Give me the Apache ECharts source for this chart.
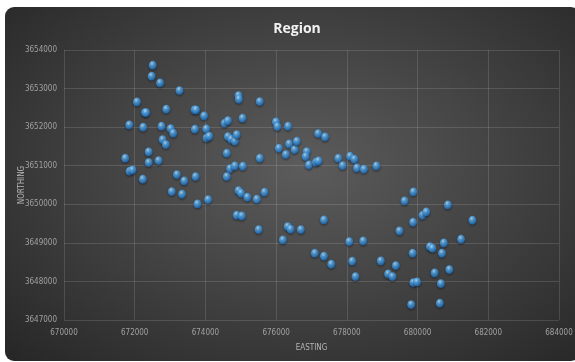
<!DOCTYPE html>
<html>
<head>
<meta charset="utf-8">
<script src="https://cdn.jsdelivr.net/npm/echarts@6/dist/echarts.min.js"></script>
<style>
    html, body { margin: 0; padding: 0; background: #fff; }
    #bg {
        position: absolute; left: 5px; top: 7px; width: 575px; height: 354px;
        border-radius: 9px;
        background: radial-gradient(ellipse at 52% 45%, #5c5c5c 0%, #444 45%, #262626 100%);
    }
    #main { position: absolute; left: 0; top: 0; width: 575px; height: 362px; }
</style>
</head>
<body>
<div id="bg"></div>
<div id="main"></div>
<script>
// 坐标数据
var easting = [
    672510, 672478, 672717, 673267, 672064, 672290, 672320, 672893, 671846, 672240,
    672758, 673017, 673090, 672789, 672883, 672395, 671732, 672395, 672675, 671856,
    671939, 672230, 673194, 673401, 673049, 673339, 673723, 673775, 674075, 673692,
    673734, 673962, 673702, 674024, 674034, 674107, 674542, 674636, 675050, 674936,
    674947, 675537, 674636, 674729, 674833, 674885, 674604, 674697, 674833, 675060,
    675537, 674604, 674936, 675008, 675185, 675454, 675672, 674885, 675030, 675506,
    675994, 676035, 676336, 676077, 676367, 676274, 676523, 676585, 676865, 676834,
    676927, 677124, 677197, 677187, 677384, 677757, 677882, 678089, 678213, 678286,
    678483, 678835, 676191, 676326, 676409, 676699, 677353, 677094, 677353, 677560,
    678068, 678462, 678151, 678244, 678960, 679167, 679291, 679385, 679488, 679633,
    679882, 679872, 679861, 679882, 679986, 679820, 680142, 680245, 680349, 680422,
    680484, 680629, 680660, 680691, 680743, 680857, 680899, 681231, 681552
];
var northing = [
    3653603, 3653317, 3653145, 3652946, 3652652, 3652375, 3652375, 3652462, 3652056, 3651995,
    3652021, 3651960, 3651840, 3651675, 3651546, 3651356, 3651191, 3651079, 3651131, 3650854,
    3650889, 3650647, 3650768, 3650604, 3650327, 3650258, 3650716, 3650007, 3650120, 3652445,
    3652445, 3652289, 3651943, 3651952, 3651719, 3651762, 3652099, 3652168, 3652229, 3652816,
    3652721, 3652661, 3651753, 3651684, 3651632, 3651805, 3651321, 3650924, 3650993, 3650984,
    3651191, 3650716, 3650353, 3650284, 3650180, 3650128, 3650310, 3649714, 3649696, 3649342,
    3652133, 3652012, 3652021, 3651451, 3651563, 3651287, 3651416, 3651632, 3651365, 3651235,
    3651019, 3651088, 3651123, 3651831, 3651744, 3651191, 3651001, 3651243, 3651165, 3650941,
    3650906, 3650993, 3649074, 3649420, 3649351, 3649342, 3649593, 3648728, 3648651, 3648443,
    3649031, 3649048, 3648521, 3648123, 3648530, 3648193, 3648123, 3648409, 3649307, 3650085,
    3650318, 3649532, 3648728, 3647968, 3647985, 3647397, 3649714, 3649800, 3648901, 3648858,
    3648219, 3647432, 3647942, 3648728, 3648996, 3649982, 3648305, 3649091, 3649584
];
var xTicks = [670000, 684000, 2000];
var yTicks = [3647000, 3654000, 1000];

var points = [];
for (var i = 0; i < easting.length; i++) {
    points.push([easting[i], northing[i]]);
}

var labelFont = '"Liberation Sans Narrow", "DejaVu Sans Condensed", sans-serif';
var myChart = echarts.init(document.getElementById('main'));
var option = {
    backgroundColor: 'transparent',
    title: {
        text: 'Region',
        left: 292,
        textAlign: 'center',
        top: 17,
        textStyle: { color: '#f2f2f2', fontSize: 14, fontWeight: 'bold', fontFamily: '"Open Sans", sans-serif' }
    },
    grid: { left: 64, right: 16, top: 50, bottom: 42, outerBoundsMode: 'none' },
    xAxis: {
        type: 'value',
        min: xTicks[0], max: xTicks[1], interval: xTicks[2],
        name: 'EASTING',
        nameLocation: 'middle',
        nameGap: 24,
        nameMoveOverlap: false,
        nameTextStyle: { color: '#b5b5b5', fontSize: 8, fontFamily: labelFont },
        axisLine: { show: false },
        axisTick: { show: false },
        axisLabel: {
            color: '#a0a0a0', fontSize: 8, fontFamily: labelFont, margin: 9,
            formatter: function (v) { return String(v); }
        },
        splitLine: { lineStyle: { color: 'rgba(255,255,255,0.13)', width: 1 } }
    },
    yAxis: {
        type: 'value',
        min: yTicks[0], max: yTicks[1], interval: yTicks[2],
        name: 'NORTHING',
        nameLocation: 'middle',
        nameGap: 38,
        nameMoveOverlap: false,
        nameTextStyle: { color: '#b5b5b5', fontSize: 8, fontFamily: labelFont },
        axisLine: { show: false },
        axisTick: { show: false },
        axisLabel: {
            color: '#a0a0a0', fontSize: 8, fontFamily: labelFont, margin: 7,
            formatter: function (v) { return String(v); }
        },
        splitLine: { lineStyle: { color: 'rgba(255,255,255,0.13)', width: 1 } }
    },
    series: [{
        type: 'scatter',
        data: points,
        symbol: 'circle',
        symbolSize: [8, 9],
        itemStyle: {
            color: {
                type: 'radial', x: 0.4, y: 0.3, r: 0.75,
                colorStops: [
                    { offset: 0, color: '#d6efff' },
                    { offset: 0.3, color: '#5ab0f0' },
                    { offset: 0.75, color: '#2b7cc8' },
                    { offset: 1, color: '#1a4f88' }
                ]
            },
            shadowColor: 'rgba(0,0,0,0.5)',
            shadowBlur: 2,
            shadowOffsetY: 1
        }
    }]
};
if (option && typeof option === "object") {
    myChart.setOption(option, true);
}
</script>
</body>
</html>
